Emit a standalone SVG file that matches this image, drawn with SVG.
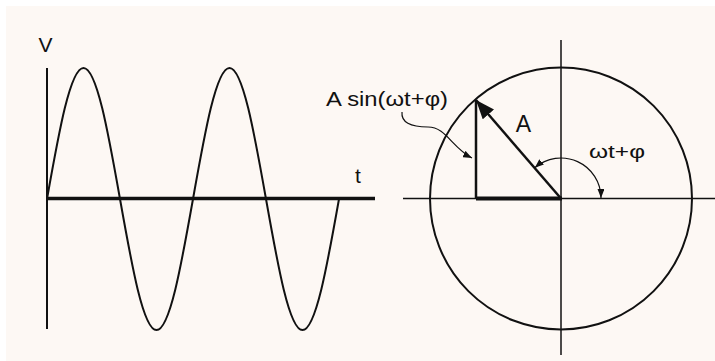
<svg xmlns="http://www.w3.org/2000/svg" width="715" height="361" viewBox="0 0 715 361">
<style>
.ln{stroke:#111;fill:none;stroke-linecap:butt}
.txt{font-family:"Liberation Sans",Arial,sans-serif;fill:#111}
</style>
<defs>
<marker id="big" viewBox="0 0 10 10" refX="10" refY="5" markerUnits="userSpaceOnUse" markerWidth="19" markerHeight="15" orient="auto" preserveAspectRatio="none"><path d="M0,0 L10,5 L0,10 z" fill="#111"/></marker>
<marker id="sm" viewBox="0 0 10 10" refX="10" refY="5" markerUnits="userSpaceOnUse" markerWidth="9" markerHeight="7" orient="auto-start-reverse" preserveAspectRatio="none"><path d="M0,0 L10,5 L0,10 z" fill="#111"/></marker>
</defs>
<rect x="0" y="0" width="715" height="361" fill="#ffffff"/>
<rect x="6" y="6" width="709" height="355" fill="#fdf8f4"/>

<g id="waveform">
<line class="ln" x1="47" y1="68" x2="47" y2="329" stroke-width="2"/>
<line class="ln" x1="46" y1="198.5" x2="375" y2="198.5" stroke-width="3.5"/>
<path class="ln" stroke-width="2" d="M47,199 c11.9,-67.11 23.29,-131 36.5,-131 c13.21,0 24.6,63.89 36.5,131 c11.9,67.11 23.29,131 36.5,131 c13.21,0 24.6,-63.89 36.5,-131 c11.9,-67.11 23.29,-131 36.5,-131 c13.21,0 24.6,63.89 36.5,131 c11.9,67.11 23.29,131 36.5,131 c13.21,0 24.6,-63.89 36.5,-131"/>
<text class="txt" x="45.5" y="52" font-size="21" text-anchor="middle">V</text>
<text class="txt" x="358" y="183" font-size="21" text-anchor="middle">t</text>
</g>

<g id="phasor">
<line class="ln" x1="403" y1="198.5" x2="715" y2="198.5" stroke-width="1.5"/>
<line class="ln" x1="561" y1="40" x2="561" y2="355" stroke-width="1.5"/>
<circle class="ln" cx="561" cy="198.5" r="131" stroke-width="2"/>
<line class="ln" x1="476" y1="100" x2="476" y2="198.5" stroke-width="2.5"/>
<line class="ln" x1="476" y1="198.5" x2="562" y2="198.5" stroke-width="4"/>
<line class="ln" x1="561" y1="198.5" x2="476" y2="100" stroke-width="2.5" marker-end="url(#big)"/>
<text class="txt" x="523.5" y="132" font-size="23" text-anchor="middle">A</text>
</g>

<g id="connectors">
<path class="ln" stroke-width="1.2" d="M402,112 C401,122 410,127 428,127 C446,127 452,148 472,158" marker-end="url(#sm)"/>
<path class="ln" stroke-width="1.2" d="M534.8,167.8 A40,40 0 0 1 601,198" marker-start="url(#sm)" marker-end="url(#sm)"/>
</g>

<g id="labels">
<text class="txt" x="326" y="106" font-size="21" textLength="122" lengthAdjust="spacingAndGlyphs">A sin(ωt+φ)</text>
<text class="txt" x="589" y="158" font-size="19" textLength="56" lengthAdjust="spacingAndGlyphs">ωt+φ</text>
</g>
</svg>
